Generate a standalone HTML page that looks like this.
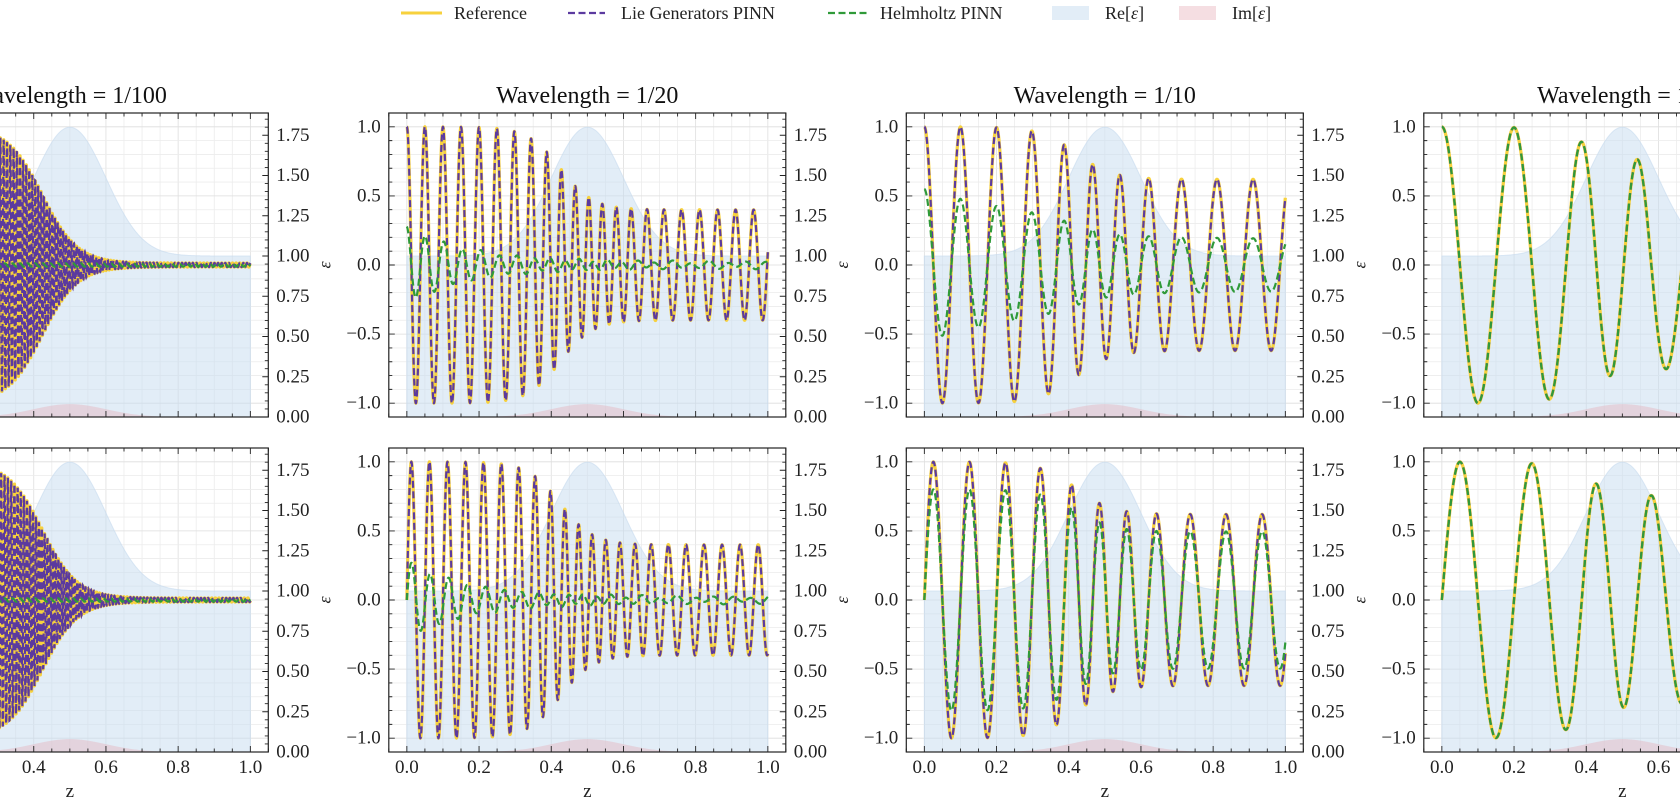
<!DOCTYPE html>
<html><head><meta charset="utf-8">
<style>
html,body{margin:0;padding:0;background:#fff;}
svg{display:block;font-family:"Liberation Serif",serif;}
.yl text{text-anchor:end;dominant-baseline:central;font-size:19px;fill:#222}
.yr text{text-anchor:start;dominant-baseline:central;font-size:19px;fill:#222}
.xl text{text-anchor:middle;font-size:19px;fill:#222}
.eps{font-size:18px;font-style:italic;fill:#222;text-anchor:middle;dominant-baseline:central}
.ttl{font-size:24px;text-anchor:middle;fill:#111}
.zl{font-size:19px;text-anchor:middle;fill:#222}
.lg{font-size:18px;fill:#222;dominant-baseline:central}
</style></head>
<body>
<svg id="s" width="1680" height="800" viewBox="0 0 1680 800" xmlns="http://www.w3.org/2000/svg">
<!-- legend -->
<line x1="401" y1="13" x2="442" y2="13" stroke="#f7d13d" stroke-width="3"/>
<text class="lg" x="454" y="13">Reference</text>
<line x1="568" y1="13" x2="605" y2="13" stroke="#5b3a9f" stroke-width="2.2" stroke-dasharray="7 3.5"/>
<text class="lg" x="621" y="13">Lie Generators PINN</text>
<line x1="828" y1="13" x2="867" y2="13" stroke="#2f9a39" stroke-width="2.2" stroke-dasharray="7 3.5"/>
<text class="lg" x="880" y="13">Helmholtz PINN</text>
<rect x="1052" y="6" width="37" height="14" fill="#c6dbef" fill-opacity="0.5"/>
<text class="lg" x="1105" y="13">Re[<tspan font-style="italic">ε</tspan>]</text>
<rect x="1179" y="6" width="37" height="14" fill="#e7adb7" fill-opacity="0.4"/>
<text class="lg" x="1232" y="13">Im[<tspan font-style="italic">ε</tspan>]</text>

<!-- panels -->
<g transform="translate(-128.7,0)">
 <text class="ttl" x="198.5" y="103">Wavelength = 1/100</text>
 <g transform="translate(0,113)"><g id="p00"></g>
  <g class="yl"><text x="-8" y="13.8">1.0</text><text x="-8" y="82.9">0.5</text><text x="-8" y="152">0.0</text><text x="-8" y="221.1">−0.5</text><text x="-8" y="290.2">−1.0</text></g>
  <g class="yr"><text x="405" y="304">0.00</text><text x="405" y="263.75">0.25</text><text x="405" y="223.5">0.50</text><text x="405" y="183.25">0.75</text><text x="405" y="143">1.00</text><text x="405" y="102.75">1.25</text><text x="405" y="62.5">1.50</text><text x="405" y="22.25">1.75</text></g>
  <text class="eps" transform="translate(453,152) rotate(-90)">ε</text>
 </g>
 <g transform="translate(0,448)"><g id="p01"></g>
  <g class="yl"><text x="-8" y="13.8">1.0</text><text x="-8" y="82.9">0.5</text><text x="-8" y="152">0.0</text><text x="-8" y="221.1">−0.5</text><text x="-8" y="290.2">−1.0</text></g>
  <g class="yr"><text x="405" y="304">0.00</text><text x="405" y="263.75">0.25</text><text x="405" y="223.5">0.50</text><text x="405" y="183.25">0.75</text><text x="405" y="143">1.00</text><text x="405" y="102.75">1.25</text><text x="405" y="62.5">1.50</text><text x="405" y="22.25">1.75</text></g>
  <text class="eps" transform="translate(453,152) rotate(-90)">ε</text>
  <g class="xl"><text x="18.05" y="325">0.0</text><text x="90.25" y="325">0.2</text><text x="162.45" y="325">0.4</text><text x="234.65" y="325">0.6</text><text x="306.85" y="325">0.8</text><text x="379.05" y="325">1.0</text></g>
  <text class="zl" x="198.5" y="349">z</text>
 </g>
</g>

<g transform="translate(388.8,0)">
 <text class="ttl" x="198.5" y="103">Wavelength = 1/20</text>
 <g transform="translate(0,113)"><g id="p10"></g>
  <g class="yl"><text x="-8" y="13.8">1.0</text><text x="-8" y="82.9">0.5</text><text x="-8" y="152">0.0</text><text x="-8" y="221.1">−0.5</text><text x="-8" y="290.2">−1.0</text></g>
  <g class="yr"><text x="405" y="304">0.00</text><text x="405" y="263.75">0.25</text><text x="405" y="223.5">0.50</text><text x="405" y="183.25">0.75</text><text x="405" y="143">1.00</text><text x="405" y="102.75">1.25</text><text x="405" y="62.5">1.50</text><text x="405" y="22.25">1.75</text></g>
  <text class="eps" transform="translate(453,152) rotate(-90)">ε</text>
 </g>
 <g transform="translate(0,448)"><g id="p11"></g>
  <g class="yl"><text x="-8" y="13.8">1.0</text><text x="-8" y="82.9">0.5</text><text x="-8" y="152">0.0</text><text x="-8" y="221.1">−0.5</text><text x="-8" y="290.2">−1.0</text></g>
  <g class="yr"><text x="405" y="304">0.00</text><text x="405" y="263.75">0.25</text><text x="405" y="223.5">0.50</text><text x="405" y="183.25">0.75</text><text x="405" y="143">1.00</text><text x="405" y="102.75">1.25</text><text x="405" y="62.5">1.50</text><text x="405" y="22.25">1.75</text></g>
  <text class="eps" transform="translate(453,152) rotate(-90)">ε</text>
  <g class="xl"><text x="18.05" y="325">0.0</text><text x="90.25" y="325">0.2</text><text x="162.45" y="325">0.4</text><text x="234.65" y="325">0.6</text><text x="306.85" y="325">0.8</text><text x="379.05" y="325">1.0</text></g>
  <text class="zl" x="198.5" y="349">z</text>
 </g>
</g>

<g transform="translate(906.3,0)">
 <text class="ttl" x="198.5" y="103">Wavelength = 1/10</text>
 <g transform="translate(0,113)"><g id="p20"></g>
  <g class="yl"><text x="-8" y="13.8">1.0</text><text x="-8" y="82.9">0.5</text><text x="-8" y="152">0.0</text><text x="-8" y="221.1">−0.5</text><text x="-8" y="290.2">−1.0</text></g>
  <g class="yr"><text x="405" y="304">0.00</text><text x="405" y="263.75">0.25</text><text x="405" y="223.5">0.50</text><text x="405" y="183.25">0.75</text><text x="405" y="143">1.00</text><text x="405" y="102.75">1.25</text><text x="405" y="62.5">1.50</text><text x="405" y="22.25">1.75</text></g>
  <text class="eps" transform="translate(453,152) rotate(-90)">ε</text>
 </g>
 <g transform="translate(0,448)"><g id="p21"></g>
  <g class="yl"><text x="-8" y="13.8">1.0</text><text x="-8" y="82.9">0.5</text><text x="-8" y="152">0.0</text><text x="-8" y="221.1">−0.5</text><text x="-8" y="290.2">−1.0</text></g>
  <g class="yr"><text x="405" y="304">0.00</text><text x="405" y="263.75">0.25</text><text x="405" y="223.5">0.50</text><text x="405" y="183.25">0.75</text><text x="405" y="143">1.00</text><text x="405" y="102.75">1.25</text><text x="405" y="62.5">1.50</text><text x="405" y="22.25">1.75</text></g>
  <text class="eps" transform="translate(453,152) rotate(-90)">ε</text>
  <g class="xl"><text x="18.05" y="325">0.0</text><text x="90.25" y="325">0.2</text><text x="162.45" y="325">0.4</text><text x="234.65" y="325">0.6</text><text x="306.85" y="325">0.8</text><text x="379.05" y="325">1.0</text></g>
  <text class="zl" x="198.5" y="349">z</text>
 </g>
</g>

<g transform="translate(1423.8,0)">
 <text class="ttl" x="198.5" y="103">Wavelength = 1/5</text>
 <g transform="translate(0,113)"><g id="p30"></g>
  <g class="yl"><text x="-8" y="13.8">1.0</text><text x="-8" y="82.9">0.5</text><text x="-8" y="152">0.0</text><text x="-8" y="221.1">−0.5</text><text x="-8" y="290.2">−1.0</text></g>
 </g>
 <g transform="translate(0,448)"><g id="p31"></g>
  <g class="yl"><text x="-8" y="13.8">1.0</text><text x="-8" y="82.9">0.5</text><text x="-8" y="152">0.0</text><text x="-8" y="221.1">−0.5</text><text x="-8" y="290.2">−1.0</text></g>
  <g class="xl"><text x="18.05" y="325">0.0</text><text x="90.25" y="325">0.2</text><text x="162.45" y="325">0.4</text><text x="234.65" y="325">0.6</text><text x="306.85" y="325">0.8</text><text x="379.05" y="325">1.0</text></g>
  <text class="zl" x="198.5" y="349">z</text>
 </g>
</g>
</svg>
<script>
(function(){
var NS="http://www.w3.org/2000/svg";
function el(t,a,p){var e=document.createElementNS(NS,t);for(var k in a)e.setAttribute(k,a[k]);p.appendChild(e);return e;}
var W=397,H=304;
function X(z){return 18.05+361*z;}
function Y(v){return 152-138.2*v;}
function YE(e){return H-161*e;}
function gauss(z){return Math.exp(-(z-0.5)*(z-0.5)/(2*0.01));}
var N=4000,zs=[],ph=[0];
for(var i=0;i<=N;i++)zs.push(i/N);
for(i=1;i<=N;i++){var a=Math.sqrt(1+0.8*gauss(zs[i-1])),b=Math.sqrt(1+0.8*gauss(zs[i]));ph.push(ph[i-1]+0.5*(a+b)/N);}
var lam=[0.01,0.05,0.1,0.2],Aend=[0.015,0.4,0.62,0.75],C=[0.425,0.425,0.42,0.40],Wd=[0.048,0.045,0.05,0.05];
function amp(k,z){return Aend[k]+(1-Aend[k])/(1+Math.exp((z-C[k])/Wd[k]));}
function ref(k,r,i){var z=zs[i],p=2*Math.PI*ph[i]/lam[k];return amp(k,z)*(r==0?Math.cos(p):Math.sin(p));}
function helm(k,r,i){var z=zs[i];
 if(k==0)return 0.012*Math.sin(2*Math.PI*z/0.021);
 if(k==1){var A=0.26*Math.exp(-z/0.17)+0.02;var p=2*Math.PI*ph[i]/0.05*0.97;return A*(r==0?Math.cos(p+0.1):Math.sin(p))+0.01*Math.sin(2*Math.PI*z/0.09);}
 if(k==2){var rr=ref(k,r,i);return r==0?rr*(0.3+0.25*Math.exp(-z/0.3)):0.8*rr;}
 return ref(k,r,i);}
function path(f){var s="";for(var i=0;i<=N;i++){s+=(i?"L":"M")+X(zs[i]).toFixed(2)+" "+Y(f(i)).toFixed(2);}return s;}
for(var k=0;k<4;k++)for(var r=0;r<2;r++){
 var g=document.getElementById("p"+k+r);
 var cid="c"+k+r;var cp=el("clipPath",{id:cid},g);el("rect",{x:0,y:0,width:W,height:H},cp);
 var gg=el("g",{"clip-path":"url(#"+cid+")"},g);
 var z,v,j;
 for(j=0;j<=22;j++){z=-0.05+0.05*j;var xx=X(z);el("line",{x1:xx,y1:0,x2:xx,y2:H,stroke:(j%4==1)?"#dedede":"#ececec","stroke-width":0.8},gg);}
 for(j=-11;j<=11;j++){v=j/10;el("line",{x1:0,y1:Y(v),x2:W,y2:Y(v),stroke:(j%5==0)?"#dedede":"#ececec","stroke-width":0.8},gg);}
 var s="M"+X(0)+" "+H;for(i=0;i<=400;i++){z=i/400;s+="L"+X(z).toFixed(2)+" "+YE(1+0.8*gauss(z)).toFixed(2);}s+="L"+X(1)+" "+H+"Z";
 el("path",{d:s,fill:"#c6dbef","fill-opacity":0.5,stroke:"#c6dbef","stroke-opacity":0.6},gg);
 s="M"+X(0)+" "+H;for(i=0;i<=400;i++){z=i/400;s+="L"+X(z).toFixed(2)+" "+YE(0.08*gauss(z)).toFixed(2);}s+="L"+X(1)+" "+H+"Z";
 el("path",{d:s,fill:"#e7adb7","fill-opacity":0.4},gg);
 (function(k,r){
 var pr=path(function(i){return ref(k,r,i);});
 el("path",{d:pr,fill:"none",stroke:"#f7d13d","stroke-width":3.2,"stroke-linejoin":"round"},gg);
 el("path",{d:pr,fill:"none",stroke:"#5b3a9f","stroke-width":2.2,"stroke-dasharray":"7 3.5"},gg);
 el("path",{d:path(function(i){return helm(k,r,i);}),fill:"none",stroke:"#2f9a39","stroke-width":2.2,"stroke-dasharray":"7 3.5"},gg);
 })(k,r);
 var t="";
 for(j=0;j<=22;j++){z=-0.05+0.05*j;var L=(j%4==1)?6:3.5;xx=X(z);t+="M"+xx+" "+H+"v"+(-L)+"M"+xx+" 0v"+L;}
 for(j=-11;j<=11;j++){v=j/10;L=(j%5==0)?6:3.5;t+="M0 "+Y(v)+"h"+L;}
 for(j=0;j<=37;j++){var e=0.05*j;L=(j%5==0)?6:3.5;t+="M"+W+" "+YE(e)+"h"+(-L);}
 el("path",{d:t,stroke:"#222","stroke-width":0.9,fill:"none"},g);
 el("rect",{x:0,y:0,width:W,height:H,fill:"none",stroke:"#222","stroke-width":1.2},g);
}
})();
</script>
</body></html>
